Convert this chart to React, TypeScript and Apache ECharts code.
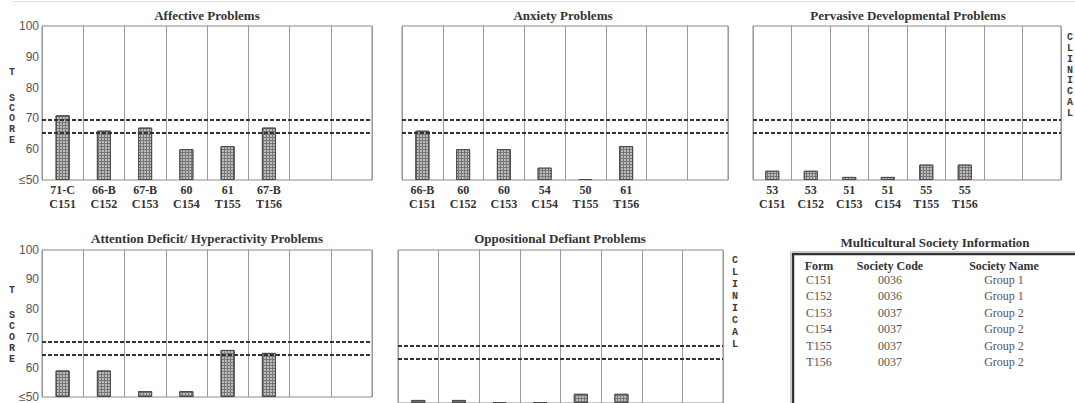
import React, { useEffect, useRef } from "react";
import * as echarts from "echarts";

// ---------- data ----------
const forms = ["C151", "C152", "C153", "C154", "T155", "T156"];
const slots = ["C151", "C152", "C153", "C154", "T155", "T156", "s7", "s8"];

const affectiveScores = [71, 66, 67, 60, 61, 67];
const affectiveLabels = ["71-C", "66-B", "67-B", "60", "61", "67-B"];

const anxietyScores = [66, 60, 60, 54, 50, 61];
const anxietyLabels = ["66-B", "60", "60", "54", "50", "61"];

const pervasiveScores = [53, 53, 51, 51, 55, 55];
const pervasiveLabels = ["53", "53", "51", "51", "55", "55"];

const adhdScores = [59, 59, 52, 52, 66, 65];
const adhdLabels = ["59", "59", "52", "52", "66-B", "65-B"];

const oddScores = [51, 51, 50, 50, 53, 53];
const oddLabels = ["51", "51", "50", "50", "53", "53"];

const topThresholds = [69.5, 65.2];
const bottomThresholds = [68.7, 64.5];

const yTicks = [50, 60, 70, 80, 90, 100];

const societyForms = ["C151", "C152", "C153", "C154", "T155", "T156"];
const societyCodes = ["0036", "0036", "0037", "0037", "0037", "0037"];
const societyNames = ["Group 1", "Group 1", "Group 2", "Group 2", "Group 2", "Group 2"];

// ---------- layout ----------
const SERIF = '"Liberation Serif", "Times New Roman", serif';
const SANS = '"Liberation Sans", Arial, sans-serif';
const MONO = '"Liberation Mono", "DejaVu Sans Mono", monospace';

const panels = [
  { title: "Affective Problems", scores: affectiveScores, labels: affectiveLabels, grid: { left: 42, top: 26, width: 330, height: 154 }, yLabels: true, xLabels: true, thresholds: topThresholds, tx: 207, ty: 15 },
  { title: "Anxiety Problems", scores: anxietyScores, labels: anxietyLabels, grid: { left: 402, top: 26, width: 326, height: 154 }, yLabels: false, xLabels: true, thresholds: topThresholds, tx: 563, ty: 15 },
  { title: "Pervasive Developmental Problems", scores: pervasiveScores, labels: pervasiveLabels, grid: { left: 753, top: 26, width: 308, height: 154 }, yLabels: false, xLabels: true, thresholds: topThresholds, tx: 908, ty: 15 },
  { title: "Attention Deficit/ Hyperactivity Problems", scores: adhdScores, labels: adhdLabels, grid: { left: 42, top: 250, width: 330, height: 154 }, yLabels: true, xLabels: false, thresholds: bottomThresholds, tx: 207, ty: 238 },
  { title: "Oppositional Defiant Problems", scores: oddScores, labels: oddLabels, grid: { left: 398, top: 250, width: 325, height: 154 }, yLabels: false, xLabels: false, thresholds: bottomThresholds, tx: 560, ty: 238 },
];

function vertText(word: string, x: number, ys: number[]) {
  return word.split("").map((ch, i) => ({
    type: "text",
    style: { text: ch, x, y: ys[i], fill: "#3a3a3a", font: `bold 10px ${MONO}`, textAlign: "center", textVerticalAlign: "middle" },
  }));
}

export default function App() {
  const ref = useRef<HTMLDivElement>(null);

  useEffect(() => {
    document.body.style.margin = "0";
    if (!ref.current) return;
    const chart = echarts.init(ref.current, undefined, { renderer: "svg" });

    const grids = panels.map((p) => ({
      ...p.grid,
      show: true,
      borderColor: "#8a8a8a",
      borderWidth: 1,
      backgroundColor: "#fff",
      containLabel: false,
    }));

    const xAxes = panels.map((p, i) => ({
      type: "category",
      gridIndex: i,
      data: slots,
      boundaryGap: true,
      axisLine: { show: false },
      axisTick: { show: false },
      splitLine: { show: true, interval: 0, lineStyle: { color: "#9a9a9a", width: 1 } },
      axisLabel: {
        show: p.xLabels,
        interval: 0,
        margin: 3,
        color: "#333",
        fontFamily: SERIF,
        fontWeight: "bold",
        fontSize: 12,
        lineHeight: 14,
        formatter: (_v: string, idx: number) => (idx < forms.length ? `${p.labels[idx]}\n${forms[idx]}` : ""),
      },
    }));

    const yAxes = panels.map((p, i) => ({
      type: "value",
      gridIndex: i,
      min: yTicks[0],
      max: yTicks[yTicks.length - 1],
      interval: 10,
      startValue: yTicks[0],
      axisLine: { show: false },
      axisTick: { show: false },
      splitLine: { show: false },
      axisLabel: {
        show: p.yLabels,
        margin: 3,
        color: "#555",
        fontFamily: SANS,
        fontSize: 12,
        formatter: (v: number) => (v === yTicks[0] ? "≤" + v : String(v)),
      },
    }));

    const series = panels.map((p, i) => ({
      type: "bar",
      name: p.title,
      xAxisIndex: i,
      yAxisIndex: i,
      data: p.scores,
      barWidth: 14,
      barMinHeight: 1,
      itemStyle: {
        color: "#777777",
        borderColor: "#4a4a4a",
        borderWidth: 1,
        decal: {
          symbol: "rect",
          symbolSize: 1,
          color: "#bcbcbc",
          dashArrayX: [2, 1],
          dashArrayY: [2, 1],
          rotation: 0,
        },
      },
      markLine: {
        silent: true,
        symbol: ["none", "none"],
        label: { show: false },
        lineStyle: { type: [4, 2], width: 2, color: "#333" },
        data: p.thresholds.map((t) => ({ yAxis: t })),
      },
    }));

    const graphics: any[] = [
      { type: "line", shape: { x1: 12, y1: 1.5, x2: 1075, y2: 1.5 }, style: { stroke: "#e2e2e2", lineWidth: 1 } },
      ...panels.map((p) => ({
        type: "text",
        style: { text: p.title, x: p.tx, y: p.ty, fill: "#333", font: `bold 13px ${SERIF}`, textAlign: "center", textVerticalAlign: "middle" },
      })),
      ...vertText("T", 12, [72]),
      ...vertText("SCORE", 12, [98, 108, 118, 129, 140]),
      ...vertText("T", 12, [290]),
      ...vertText("SCORE", 12, [315, 326, 337, 348, 359]),
      ...vertText("CLINICAL", 1070, [37, 48, 59, 70, 80, 91, 102, 113]),
      ...vertText("CLINICAL", 735, [260, 272, 284, 296, 308, 320, 332, 344]),
      // society table
      {
        type: "text",
        style: { text: "Multicultural Society Information", x: 935, y: 242, fill: "#333", font: `bold 13px ${SERIF}`, textAlign: "center", textVerticalAlign: "middle" },
      },
      { type: "rect", shape: { x: 790.5, y: 251.5, width: 300, height: 200 }, style: { fill: "none", stroke: "#c8c8c8", lineWidth: 1 } },
      { type: "rect", shape: { x: 793, y: 254, width: 300, height: 200 }, style: { fill: "#fff", stroke: "#333", lineWidth: 2.5 } },
      ...[
        ["Form", 819],
        ["Society Code", 890],
        ["Society Name", 1004],
      ].map(([t, x]) => ({
        type: "text",
        style: { text: t, x, y: 266, fill: "#333", font: `bold 12px ${SERIF}`, textAlign: "center", textVerticalAlign: "middle" },
      })),
      ...societyForms.flatMap((f, i) => {
        const y = 280 + i * 16.4;
        return [
          { type: "text", style: { text: f, x: 819, y, fill: "#555", font: `12px ${SERIF}`, textAlign: "center", textVerticalAlign: "middle" } },
          { type: "text", style: { text: societyCodes[i], x: 890, y, fill: "#555", font: `12px ${SERIF}`, textAlign: "center", textVerticalAlign: "middle" } },
          { type: "text", style: { text: societyNames[i], x: 1004, y, fill: "#555", font: `12px ${SERIF}`, textAlign: "center", textVerticalAlign: "middle" } },
        ];
      }),
    ];

    chart.setOption({
      animation: false,
      backgroundColor: "#fff",
      grid: grids,
      xAxis: xAxes,
      yAxis: yAxes,
      series,
      graphic: { elements: graphics },
    });

    return () => chart.dispose();
  }, []);

  return <div ref={ref} style={{ width: 1075, height: 403 }} />;
}
